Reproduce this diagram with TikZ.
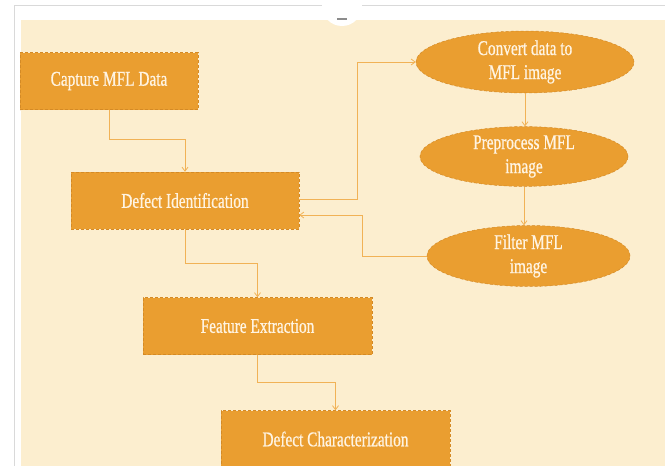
\documentclass[tikz,border=0pt]{standalone}
\usepackage{fontspec}
\setmainfont{Liberation Serif}[FakeStretch=0.73, UprightFeatures={FakeBold=0.7}]
\usepackage{tikz}
\usetikzlibrary{shapes.geometric, arrows.meta, positioning}

\definecolor{cream}{RGB}{252,238,207}
\definecolor{boxfill}{RGB}{234,158,48}
\definecolor{boxedge}{RGB}{212,138,38}
\definecolor{linkcol}{RGB}{241,178,86}
\definecolor{textcol}{RGB}{255,244,226}

\begin{document}
\begin{tikzpicture}[x=1pt, y=-1pt,
    box/.style={rectangle, fill=boxfill, draw=boxedge, densely dashed, line width=0.5pt,
                minimum height=57pt, inner sep=0pt, text=textcol,
                font=\fontsize{21}{25}\selectfont},
    oval/.style={ellipse, fill=boxfill, draw=boxedge, densely dashed, line width=0.5pt,
                 inner sep=0pt, text=textcol, align=center,
                 font=\fontsize{21}{24}\selectfont},
    link/.style={draw=linkcol, line width=0.8pt, -{Straight Barb[length=4pt, width=6pt]}}]
    \useasboundingbox (0,0) rectangle (665,466);
    \clip (0,0) rectangle (665,466);

    % page frame and background
    \fill[white] (0,0) rectangle (665,466);
    \draw[black!15, line width=1pt] (665,5) -- (14,5) -- (14,466);
    \fill[cream] (21,20) rectangle (665,466);
    \fill[white] (342,6) circle (20);
    \draw[black!45, line width=1.2pt] (337,19) -- (347,19);

    % process steps
    \foreach \n/\x/\y/\w/\t in {cap/109/81/178/Capture MFL Data,
                                defid/185/200.5/228/Defect Identification,
                                feat/257.5/326/229/Feature Extraction,
                                dchar/335.5/439/229/Defect Characterization} {
        \node[box, minimum width=\w] (\n) at (\x,\y) {\t};
    }

    % image processing steps
    \foreach \n/\x/\y/\w/\h/\t in {conv/525/62/218/62/Convert data to\\MFL image,
                                   prep/524/156.5/208/59/Preprocess MFL\\image,
                                   filt/528.5/256/203/60/Filter MFL\\image} {
        \node[oval, minimum width=\w, minimum height=\h] (\n) at (\x,\y) {\t};
    }

    % connectors
    \draw[link] (cap.south) -- ++(0,30) -| (defid.north);
    \draw[link] ([yshift=1.5pt]defid.east) -- ++(58,0) |- (conv.west);
    \draw[link] (conv.south) -- (conv.south |- prep.north);
    \draw[link] (prep.south) -- (prep.south |- filt.north);
    \draw[link] (filt.west) -- ++(-64.5,0) |- ([yshift=-14.5pt]defid.east);
    \draw[link] (defid.south) -- ++(0,34) -| (feat.north);
    \draw[link] (feat.south) -- ++(0,28) -| (dchar.north);
\end{tikzpicture}
\end{document}
